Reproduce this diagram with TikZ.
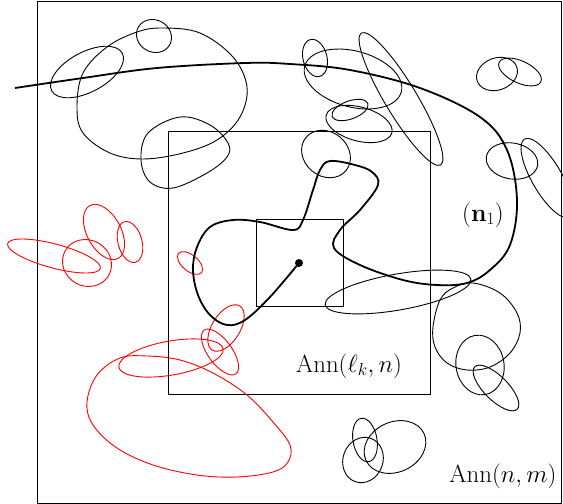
\documentclass[tikz,border=0pt]{standalone}
\usepackage{amsmath, amssymb}
\usetikzlibrary{calc}

\begin{document}
\begin{tikzpicture}[x=1pt,y=-1pt,line width=0.9pt,
    bloop/.style={black,line width=0.9pt},
    rloop/.style={red,line width=0.9pt},
    walk/.style={black,line width=1.8pt},
    lab/.style={font=\fontsize{23}{28}\selectfont,inner sep=0pt}]
        \clip (0,0) rectangle (563,504);
        % the three boxes
        \foreach \a/\b/\c/\d in {37/1/561/503, 168/131/430/394, 256/219/343/306}
        \draw (\a,\b) rectangle (\c,\d);
        % black loops
        \foreach \cx/\cy/\rx/\ry/\r in {154/36/18/16/-30, 87/72/40/20/28, 315/58/12/19/14,
            353/79/50/28/-15, 401/99/77/16/-59, 359/124/34/17/-15, 350/110/19/9/20,
            326/154/26/22/-40, 497/74/21/16/20, 520/72/23/11/-25, 512/161/26/18/-10,
            547/178/45/15/-60, 398/292/74/18/10, 480/365/24/30/10, 496/388/30/12/-45,
            365/440/12/22/10, 363/460/20/23/-20, 395/447/32/25/25}
        \draw[bloop] (\cx,\cy) circle[x radius=\rx pt, y radius=\ry pt, rotate=\r];
        \draw[bloop] plot[smooth cycle,tension=0.6] coordinates {(163,28) (200,33) (233,57) (247,87) (240,117) (217,140) (183,153) (143,159) (110,153) (83,133) (77,107) (83,73) (107,47) (137,32)};
        \draw[bloop] plot[smooth cycle,tension=0.6] coordinates {(180,117) (210,125) (228,143) (227,157) (207,173) (173,188) (150,182) (141,160) (148,133)};
        \draw[bloop] plot[smooth cycle,tension=0.6] coordinates {(473,283) (500,293) (517,313) (520,333) (510,353) (490,367) (467,370) (447,363) (435,347) (433,327) (440,300) (453,288)};
        % red loops
        \foreach \cx/\cy/\rx/\ry/\r in {54/256/48/12/-15, 87/263/25/23/-30, 104/232/30/17/-62,
            130/242/12/21/15, 190/263/15/8/-40, 226/328/26/14/58, 220/352/27/12/-54,
            171/358/53/17/10}
        \draw[rloop] (\cx,\cy) circle[x radius=\rx pt, y radius=\ry pt, rotate=\r];
        \draw[rloop] plot[smooth cycle,tension=0.6] coordinates {(120,358) (147,356) (180,360) (213,373) (247,395) (273,422) (290,445) (288,462) (273,472) (237,477) (197,475) (153,465) (117,448) (93,425) (87,402) (97,375)};
        % the path to the origin
        \coordinate (x0) at (299,263);
        \draw[walk] plot[smooth,tension=0.6] coordinates {(15,88) (83,78) (157,68) (245,63) (290,64) (350,70) (420,88) (480,117) (507,150) (517,200) (510,245) (490,270) (467,283) (437,285) (403,280) (360,265) (334,248) (340,230) (360,210) (378,185) (372,172) (355,165) (330,161) (320,170) (313,190) (303,220) (293,230) (260,222) (233,220) (210,227) (197,247) (193,270) (198,295) (210,315) (227,325) (245,320) (270,297) (x0)};
        \fill (x0) circle (4pt);
        \node[lab] (n1) at (483,215) {$(\mathbf{n}_1)$};
        \node[lab] (annk) at (349,366) {$\mathrm{Ann}(\ell_k,n)$};
        \node[lab] (annm) at (503,476) {$\mathrm{Ann}(n,m)$};
    \end{tikzpicture}
\end{document}
